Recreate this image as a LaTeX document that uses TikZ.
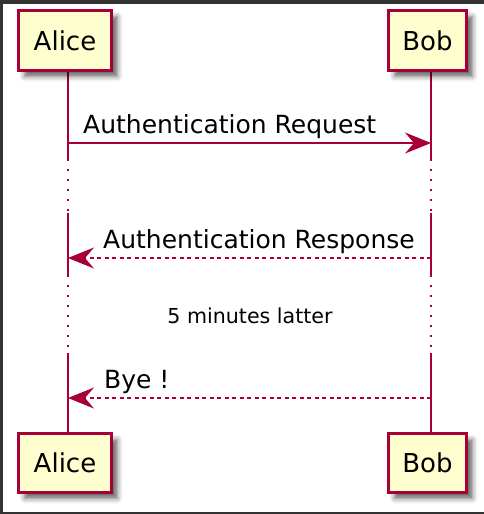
\documentclass[tikz,border=0pt]{standalone}
\usepackage{fontspec}
\setmainfont{DejaVu Sans}
\usetikzlibrary{arrows.meta,shadows.blur}
\definecolor{pumlred}{HTML}{A80036}
\definecolor{pumlfill}{HTML}{FEFECE}
\definecolor{frame}{HTML}{333333}
\tikzset{
  participant/.style={draw=pumlred, fill=pumlfill, line width=3pt, inner sep=0pt,
    font=\fontsize{26}{30}\selectfont,
    blur shadow={shadow xshift=6pt, shadow yshift=-6pt, shadow blur radius=5pt, shadow opacity=60}},
  lifesolid/.style={draw=pumlred, line width=2pt},
  lifedot/.style={draw=pumlred, line width=2pt, dash pattern=on 2pt off 8pt},
  msg/.style={draw=pumlred, line width=1.6pt, -{Stealth[length=26pt,width=21pt,inset=9pt]}},
  msgret/.style={msg, dash pattern=on 4pt off 3.5pt},
  msglabel/.style={inner sep=0pt, anchor=base west, font=\fontsize{25}{30}\selectfont},
  delaylabel/.style={inner sep=0pt, anchor=base, font=\fontsize{20.6}{24}\selectfont}
}
\begin{document}
\begin{tikzpicture}[x=1pt,y=-1pt]
\useasboundingbox (0,0) rectangle (484,514);
% frame
\fill[frame] (0,0) rectangle (484,4);
\fill[frame] (0,0) rectangle (3,514);
\fill[frame] (0,512) rectangle (484,514);
% lifeline coordinates
\coordinate (a0) at (68,72);
\coordinate (a1) at (68,159);
\coordinate (a2) at (68,213);
\coordinate (a3) at (68,275);
\coordinate (a4) at (68,353);
\coordinate (a5) at (68,432);
\coordinate (b0) at (431,72);
\coordinate (b1) at (431,159);
\coordinate (b2) at (431,213);
\coordinate (b3) at (431,275);
\coordinate (b4) at (431,353);
\coordinate (b5) at (431,432);
\path[lifesolid] (a0) -- (a1) (a2) -- (a3) (a4) -- (a5);
\path[lifedot] (a1) -- (a2) (a3) -- (a4);
\path[lifesolid] (b0) -- (b1) (b2) -- (b3) (b4) -- (b5);
\path[lifedot] (b1) -- (b2) (b3) -- (b4);
% participants
\node[participant, minimum width=93pt, minimum height=60pt] (aliceTop) at (65,40.5) {Alice};
\node[participant, minimum width=78pt, minimum height=60pt] (bobTop) at (427.5,40.5) {Bob};
\node[participant, minimum width=93pt, minimum height=59pt] (aliceBot) at (65,463) {Alice};
\node[participant, minimum width=78pt, minimum height=59pt] (bobBot) at (427.5,463) {Bob};
% messages
\coordinate (m1a) at (68,143);
\coordinate (m1b) at (431,143);
\draw[msg] (m1a) -- (m1b);
\node[msglabel] (l1) at (83,133) {Authentication Request};
\coordinate (m2a) at (68,258);
\coordinate (m2b) at (431,258);
\draw[msgret] (m2b) -- (m2a);
\node[msglabel] (l2) at (103,248) {Authentication Response};
\node[delaylabel] (d1) at (250,323) {5 minutes latter};
\coordinate (m3a) at (68,398);
\coordinate (m3b) at (431,398);
\draw[msgret] (m3b) -- (m3a);
\node[msglabel] (l3) at (104,388) {Bye !};
\end{tikzpicture}
\end{document}
